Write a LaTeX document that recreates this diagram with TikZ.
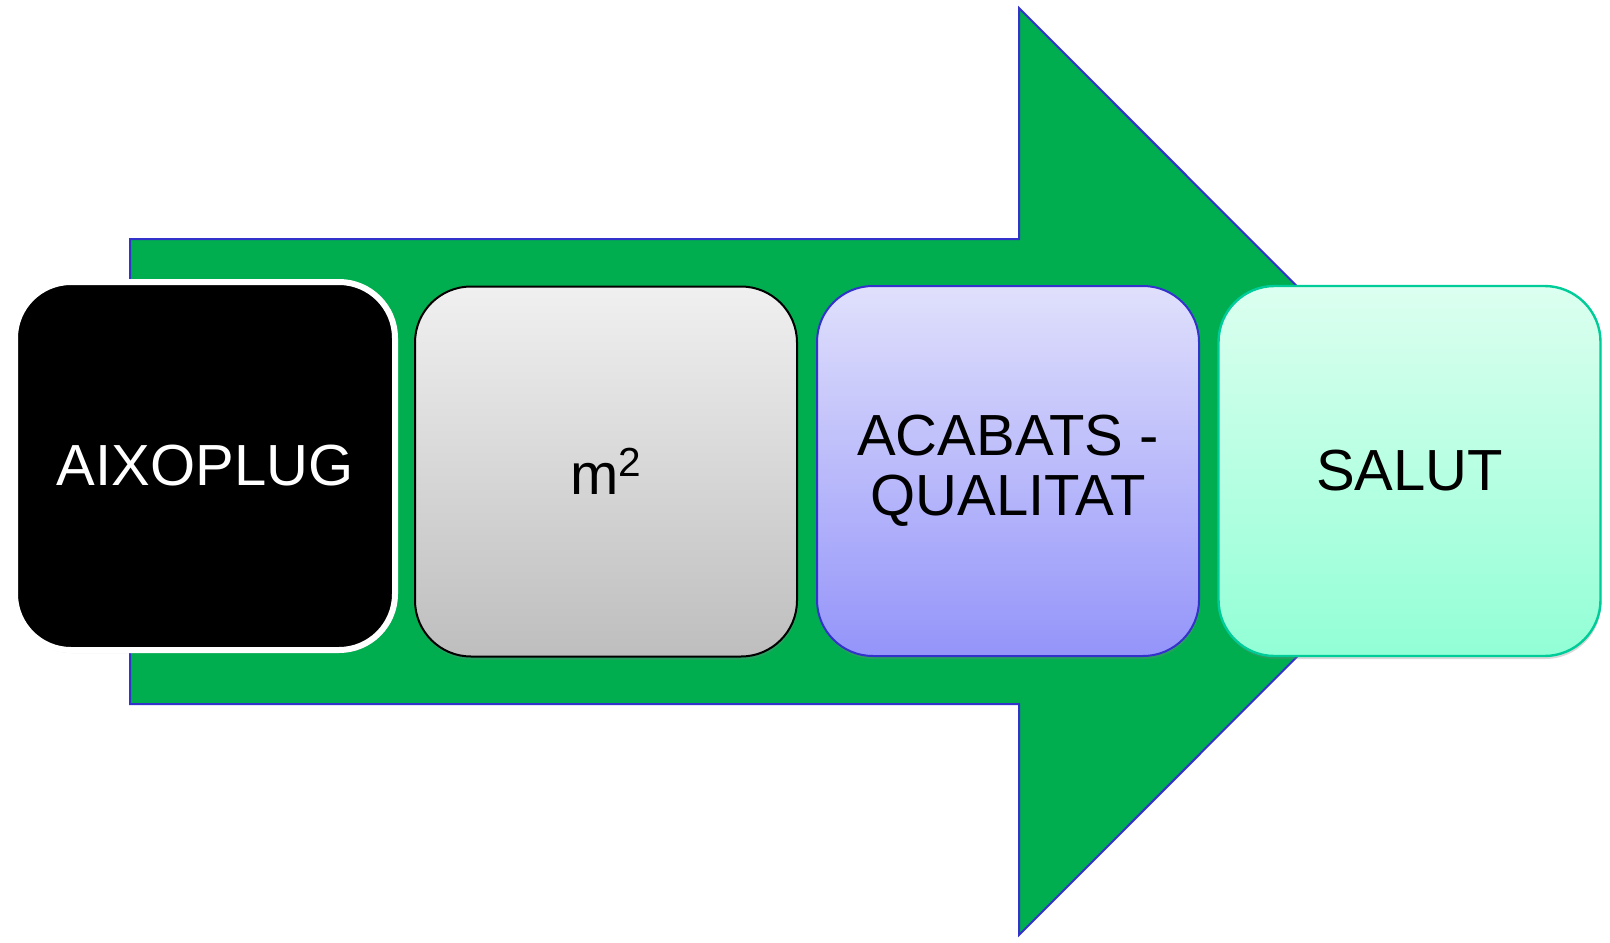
\documentclass[tikz,border=0pt]{standalone}
\usepackage{fontspec}
\setmainfont{Liberation Sans}
\usetikzlibrary{shadows}
\definecolor{arrowgreen}{RGB}{0,174,80}
\definecolor{arrowblue}{RGB}{51,51,204}
\definecolor{greytop}{RGB}{240,240,240}
\definecolor{greybot}{RGB}{190,190,190}
\definecolor{violtop}{RGB}{224,224,252}
\definecolor{violbot}{RGB}{148,148,250}
\definecolor{minttop}{RGB}{220,255,240}
\definecolor{mintbot}{RGB}{146,255,214}
\definecolor{mintline}{RGB}{0,204,153}
\tikzset{
  stagebox/.style={rounded corners=28pt, minimum width=191pt, minimum height=185pt,
    align=center, font=\fontsize{29}{30}\selectfont, inner sep=0pt,
    drop shadow={opacity=0.3, shadow xshift=0.4pt, shadow yshift=-1.5pt}},
  bigarrow/.style={fill=arrowgreen, draw=arrowblue, line width=1pt, line join=miter}
}
\begin{document}
\begin{tikzpicture}[x=0.5pt, y=-0.5pt]
\useasboundingbox (0,0) rectangle (1610,942);
% big arrow
\draw[bigarrow] (130,239) -- (1019,239) -- (1019,8) -- (1482,471.5)
  -- (1019,935) -- (1019,704) -- (130,704) -- cycle;
% boxes
\node[stagebox, fill=black, draw=white, line width=3pt, text=white,
  minimum width=190pt, minimum height=184pt] (b1) at (205,466) {AIXOPLUG};
\node[stagebox, top color=greytop, bottom color=greybot, draw=black, line width=1pt] (b2) at (606,471.5) {m\textsuperscript{2}};
\node[stagebox, top color=violtop, bottom color=violbot, draw=arrowblue, line width=1pt] (b3) at (1008,471) {ACABATS -\\QUALITAT};
\node[stagebox, top color=minttop, bottom color=mintbot, draw=mintline, line width=1.2pt] (b4) at (1409.5,471) {SALUT};
\end{tikzpicture}
\end{document}
